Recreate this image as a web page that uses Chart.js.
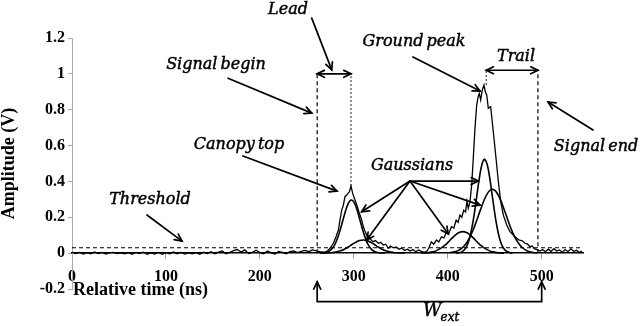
<!DOCTYPE html>
<html>
<head>
<meta charset="utf-8">
<title>Waveform decomposition</title>
<script src="https://cdn.jsdelivr.net/npm/chart.js@4.4.0/dist/chart.umd.min.js"></script>
<style>
    html, body { margin: 0; padding: 0; background: #fff; }
    #wrap { width: 640px; height: 326px; }
</style>
</head>
<body>
<div id="wrap"><canvas id="waveChart" width="640" height="326"></canvas></div>
<script>
// Raw return waveform (ns, V)
const rawTime = [
    0, 4, 8, 12, 16, 20, 24, 28, 32, 36, 40, 44, 48, 52, 56, 60, 64, 68, 72, 76,
    80, 84, 88, 92, 96, 100, 104, 108, 112, 116, 120, 124, 128, 132, 136, 140, 144, 148, 152, 156,
    160, 164, 168, 172, 176, 180, 184, 188, 192, 196, 200, 204, 208, 212, 216, 220, 224, 228, 232, 236,
    240, 244, 248, 252, 256, 260, 264, 268,
    271.8, 274.7, 278.2, 281.1, 283.6, 285.3, 287.1, 288.9, 290.6, 292.4, 294, 295.2, 297, 298.8,
    301.3, 303.8, 305.9, 308.4, 310.2, 312, 313.7, 315.5, 317.3, 319, 320.8, 323, 326.1, 328.5,
    331.4, 334, 336.7, 339, 342, 345, 348, 351, 354, 357, 360, 363, 366, 369, 372, 375, 378, 380,
    382.6, 385, 388, 390.5, 393.3, 396, 398.6, 401, 404, 406.5, 409, 411, 413, 415, 417, 419, 420.5,
    421.9, 423.7, 425.5, 427.2, 429, 430.8, 432.3, 433.6, 435.1, 436.8, 438.6, 440, 441.5, 443.2,
    445.7, 448.5, 451.4, 453.9, 456.4, 459.2, 462.8, 466.3, 469.8, 473.4, 476.2, 479, 482.3, 485,
    487.6, 490, 492, 495, 498, 501, 504, 507, 510, 513, 516, 519, 522, 525, 528, 531, 534, 537, 540, 543
];
const rawAmp = [
    0.005, -0.003, 0.004, -0.005, 0.003, -0.004, 0.006, -0.002, 0.004, -0.005, 0.002, 0.004, -0.003, 0.001, -0.004, 0.003, -0.006, 0.004, -0.003, 0.005,
    -0.007, 0.002, -0.005, 0.004, -0.006, 0.003, -0.004, 0.006, -0.003, 0.004, -0.005, 0.002, -0.004, 0.003, -0.006, 0.005, -0.002, 0.008, -0.004, 0.006,
    0.012, -0.003, 0.004, 0.014, 0.02, 0.006, 0.018, -0.002, 0.004, 0.016, 0.003, -0.004, 0.012, 0.002, -0.005, 0.01, 0.004, -0.003, 0.008, 0.012,
    0.003, 0.01, 0.015, 0.008, 0.018, 0.012, 0.008, 0.005,
    0.012, 0.027, 0.055, 0.092, 0.129, 0.185, 0.24, 0.268, 0.315, 0.324, 0.335, 0.342, 0.374, 0.333,
    0.296, 0.259, 0.222, 0.185, 0.147, 0.12, 0.101, 0.095, 0.083, 0.07, 0.064, 0.07, 0.055, 0.06,
    0.045, 0.05, 0.027, 0.04, 0.03, 0.035, 0.022, 0.028, 0.015, 0.022, 0.012, 0.02, 0.008, 0.018, 0.01, 0.004, 0.012, 0.03,
    0.063, 0.05, 0.073, 0.062, 0.091, 0.085, 0.119, 0.108, 0.147, 0.14, 0.184, 0.172, 0.212, 0.2, 0.24, 0.23, 0.29,
    0.25, 0.287, 0.38, 0.529, 0.696, 0.826, 0.87, 0.891, 0.854, 0.91, 0.938, 0.9, 0.882, 0.808,
    0.817, 0.677, 0.529, 0.398, 0.287, 0.212, 0.157, 0.12, 0.101, 0.083, 0.073, 0.07, 0.055, 0.05,
    0.036, 0.04, 0.025, 0.02, 0.012, 0.02, 0.008, 0.022, 0.01, 0.025, 0.012, 0.018, 0.005, 0.02, 0.008, 0.024, 0.01, 0.016, 0.004, 0.012
];

// Fitted Gaussian components
const g1Time = [264, 270, 273, 276, 279, 282, 285, 288, 291, 294, 297, 300, 303, 306, 309, 312, 315, 318, 321, 324, 327, 333];
const g1Amp  = [0, 0.004, 0.009, 0.021, 0.041, 0.074, 0.12, 0.176, 0.232, 0.276, 0.296, 0.286, 0.249, 0.195, 0.138, 0.088, 0.05, 0.026, 0.012, 0.005, 0.002, 0];

const g2Time = [266, 270, 274, 278, 282, 286, 290, 294, 298, 302, 306, 310, 314, 318, 322, 326, 330, 334, 338, 342, 346, 350, 354];
const g2Amp  = [0, 0.001, 0.002, 0.004, 0.007, 0.013, 0.022, 0.034, 0.048, 0.06, 0.07, 0.073, 0.07, 0.06, 0.048, 0.034, 0.022, 0.013, 0.007, 0.004, 0.002, 0.001, 0];

const g3Time = [372, 376, 380, 384, 388, 392, 396, 400, 404, 408, 412, 416, 420, 424, 428, 432, 436, 440, 444, 448, 452, 456, 460];
const g3Amp  = [0.001, 0.001, 0.003, 0.007, 0.014, 0.025, 0.04, 0.059, 0.081, 0.101, 0.115, 0.12, 0.115, 0.101, 0.081, 0.059, 0.04, 0.025, 0.014, 0.007, 0.003, 0.001, 0];

const g4Time = [409, 412, 415, 418, 421, 424, 427, 430, 433, 436, 439, 442, 445, 448, 451, 454, 457, 460, 463, 466, 469];
const g4Amp  = [0, 0.002, 0.007, 0.02, 0.047, 0.098, 0.178, 0.283, 0.396, 0.486, 0.523, 0.494, 0.41, 0.298, 0.19, 0.107, 0.052, 0.023, 0.009, 0.003, 0];

const g5Time = [403, 407, 411, 415, 419, 423, 427, 431, 435, 439, 443, 447, 451, 455, 459, 463, 467, 471, 475, 479, 483, 487, 491, 495];
const g5Amp  = [0.003, 0.007, 0.014, 0.028, 0.05, 0.084, 0.129, 0.185, 0.244, 0.299, 0.339, 0.356, 0.346, 0.311, 0.259, 0.2, 0.142, 0.094, 0.058, 0.033, 0.017, 0.008, 0.004, 0.001];

// Waveform markers
const thresholdLevel = 0.03;
const signalBegin = 261;
const signalEnd = 496;
const leadEnd = 297;
const trailStart = 441;
const canopyTopAmp = 0.374;
const groundPeakAmp = 0.938;
const leadArrowLevel = 1.0;
const trailArrowLevel = 1.02;
const wextStart = 261;
const wextEnd = 500;

// Axis ticks
const timeMin = 0, timeMax = 544, timeStep = 100;
const ampMin = -0.2, ampMax = 1.2, ampStep = 0.2;

// Callout labels and arrows, in data units (ns, V)
const notes = [
    { text: 'Lead', t: 230, v: 1.356 },
    { text: 'Signal begin', t: 153.3, v: 1.049 },
    { text: 'Ground peak', t: 364.1, v: 1.177 },
    { text: 'Trail', t: 472.7, v: 1.094 },
    { text: 'Signal end', t: 557.9, v: 0.592 },
    { text: 'Canopy top', t: 177.8, v: 0.603 },
    { text: 'Gaussians', t: 362, v: 0.486 },
    { text: 'Threshold', t: 83, v: 0.296 }
];
const pointers = [
    [[255.2, 1.311], [276.5, 1.022]],
    [[166.1, 0.976], [255.2, 0.781]],
    [[363.0, 1.094], [434.4, 0.904]],
    [[554.7, 0.687], [506.8, 0.843]],
    [[182.0, 0.542], [282.1, 0.346]],
    [[359.8, 0.402], [308.4, 0.231]],
    [[359.8, 0.402], [313.7, 0.073]],
    [[359.8, 0.402], [400.6, 0.107]],
    [[359.8, 0.402], [432.6, 0.402]],
    [[359.8, 0.402], [434.4, 0.268]],
    [[79.8, 0.213], [117.1, 0.067]]
];

function toPoints(xs, ys) {
    return xs.map((t, i) => ({ x: t, y: ys[i] }));
}

function segment(x0, y0, x1, y1) {
    return [{ x: x0, y: y0 }, { x: x1, y: y1 }];
}

function drawHead(ctx, x0, y0, x1, y1) {
    const a = Math.atan2(y1 - y0, x1 - x0);
    const len = 8;
    ctx.beginPath();
    ctx.moveTo(x1 - len * Math.cos(a - 0.45), y1 - len * Math.sin(a - 0.45));
    ctx.lineTo(x1, y1);
    ctx.lineTo(x1 - len * Math.cos(a + 0.45), y1 - len * Math.sin(a + 0.45));
    ctx.stroke();
}

function drawArrow(ctx, x0, y0, x1, y1, both) {
    ctx.beginPath();
    ctx.moveTo(x0, y0);
    ctx.lineTo(x1, y1);
    ctx.stroke();
    drawHead(ctx, x0, y0, x1, y1);
    if (both) drawHead(ctx, x1, y1, x0, y0);
}

// slightly heavier italic, closer to the original callout font
function heavyText(ctx, text, x, y) {
    ctx.fillText(text, x, y);
    ctx.strokeText(text, x, y);
}

const calloutPlugin = {
    id: 'callouts',
    afterDraw(chart) {
        const { ctx, chartArea } = chart;
        const xs = chart.scales.x, ys = chart.scales.y;
        const px = t => xs.getPixelForValue(t);
        const py = v => ys.getPixelForValue(v);
        ctx.save();
        ctx.strokeStyle = '#000';
        ctx.fillStyle = '#000';
        ctx.lineWidth = 1.7;
        ctx.lineCap = 'round';

        pointers.forEach(p => {
            drawArrow(ctx, px(p[0][0]), py(p[0][1]), px(p[1][0]), py(p[1][1]), false);
        });

        // Lead and trail spans
        drawArrow(ctx, px(signalBegin), py(leadArrowLevel), px(leadEnd), py(leadArrowLevel), true);
        drawArrow(ctx, px(trailStart), py(trailArrowLevel), px(signalEnd), py(trailArrowLevel), true);

        // W_ext bracket under the axis
        const bLow = -0.27, bHigh = -0.16;
        ctx.beginPath();
        ctx.moveTo(px(wextStart), py(bHigh));
        ctx.lineTo(px(wextStart), py(bLow));
        ctx.lineTo(px(wextEnd), py(bLow));
        ctx.lineTo(px(wextEnd), py(bHigh));
        ctx.stroke();
        drawHead(ctx, px(wextStart), py(bLow), px(wextStart), py(bHigh));
        drawHead(ctx, px(wextEnd), py(bLow), px(wextEnd), py(bHigh));

        ctx.lineWidth = 0.45;
        ctx.lineJoin = 'round';
        if ('wordSpacing' in ctx) ctx.wordSpacing = '-2px';
        ctx.textAlign = 'center';
        ctx.textBaseline = 'middle';
        ctx.font = 'italic 16px "DejaVu Serif"';
        notes.forEach(n => heavyText(ctx, n.text, px(n.t), py(n.v)));

        ctx.textAlign = 'left';
        ctx.textBaseline = 'alphabetic';
        ctx.font = 'italic 18px "DejaVu Serif"';
        const wx = px(373.7), wy = py(-0.351);
        heavyText(ctx, 'W', wx, wy);
        const ww = ctx.measureText('W').width;
        ctx.font = 'italic 12px "DejaVu Serif"';
        heavyText(ctx, 'ext', wx + ww - 1, wy + 5);
        if ('wordSpacing' in ctx) ctx.wordSpacing = '0px';

        // x axis title sits just below the tick labels
        ctx.font = 'bold 18px "Liberation Serif"';
        ctx.textBaseline = 'middle';
        ctx.fillText('Relative time (ns)', chartArea.left + 1, 290);
        ctx.restore();
    }
};

Chart.defaults.font.family = '"Liberation Serif", serif';
Chart.defaults.color = '#000';

const dashed = [4, 3];
const ctx = document.getElementById('waveChart').getContext('2d');
new Chart(ctx, {
    type: 'scatter',
    data: {
        datasets: [
            { label: 'Threshold', data: segment(timeMin, thresholdLevel, timeMax, thresholdLevel), borderDash: dashed, borderWidth: 1.2 },
            { label: 'Signal begin', data: segment(signalBegin, 0, signalBegin, leadArrowLevel), borderDash: dashed, borderWidth: 1.2 },
            { label: 'Lead end', data: segment(leadEnd, canopyTopAmp, leadEnd, leadArrowLevel), borderDash: [2, 2], borderWidth: 0.9 },
            { label: 'Trail start', data: segment(trailStart, groundPeakAmp, trailStart, trailArrowLevel), borderDash: [2, 2], borderWidth: 0.9 },
            { label: 'Signal end', data: segment(signalEnd, 0, signalEnd, trailArrowLevel), borderDash: dashed, borderWidth: 1.2 },
            { label: 'G1', data: toPoints(g1Time, g1Amp), borderWidth: 1.6, tension: 0.3 },
            { label: 'G2', data: toPoints(g2Time, g2Amp), borderWidth: 1.6, tension: 0.3 },
            { label: 'G3', data: toPoints(g3Time, g3Amp), borderWidth: 1.6, tension: 0.3 },
            { label: 'G4', data: toPoints(g4Time, g4Amp), borderWidth: 1.6, tension: 0.3 },
            { label: 'G5', data: toPoints(g5Time, g5Amp), borderWidth: 1.6, tension: 0.3 },
            { label: 'Waveform', data: toPoints(rawTime, rawAmp), borderWidth: 1.3 }
        ].map(ds => Object.assign({ showLine: true, pointRadius: 0, borderColor: '#000', fill: false }, ds))
    },
    options: {
        responsive: false,
        animation: false,
        layout: { padding: { top: 38, right: 57, bottom: 37, left: 0 } },
        plugins: {
            legend: { display: false },
            tooltip: { enabled: false }
        },
        scales: {
            x: {
                type: 'linear',
                min: timeMin,
                max: timeMax,
                position: { y: 0 },
                afterFit: scale => { scale.height = 0; },
                border: { color: '#000', width: 1.5 },
                grid: { drawOnChartArea: false, tickLength: 5, tickColor: '#999' },
                ticks: {
                    stepSize: timeStep,
                    includeBounds: false,
                    padding: 9,
                    maxRotation: 0,
                    font: { size: 16, weight: 'bold' }
                }
            },
            y: {
                min: ampMin,
                max: ampMax,
                afterFit: scale => { scale.width = 72; },
                border: { color: '#aaa', width: 1 },
                grid: { drawOnChartArea: false, tickLength: 4, tickColor: '#aaa' },
                ticks: {
                    stepSize: ampStep,
                    padding: 3,
                    font: { size: 16, weight: 'bold' },
                    callback: v => String(+v.toFixed(1))
                },
                title: {
                    display: true,
                    text: 'Amplitude (V)',
                    padding: 0,
                    font: { size: 18, weight: 'bold', lineHeight: 1 }
                }
            }
        }
    },
    plugins: [calloutPlugin]
});
</script>
</body>
</html>
